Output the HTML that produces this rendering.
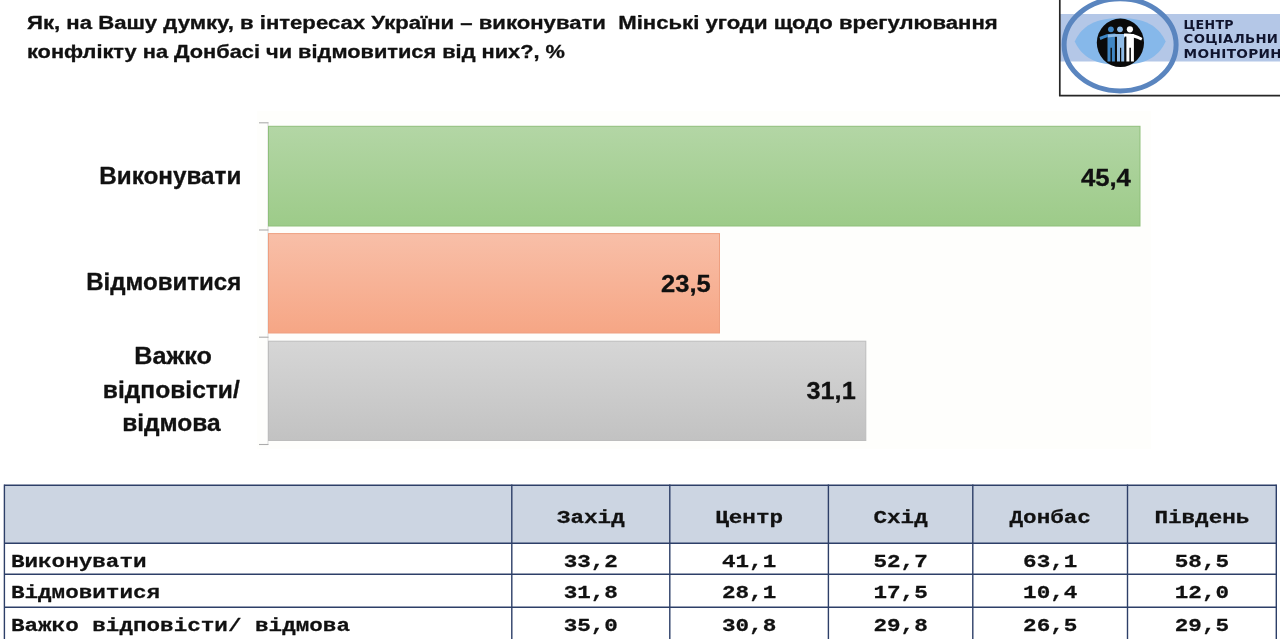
<!DOCTYPE html>
<html lang="uk">
<head>
<meta charset="utf-8">
<title>Мінські угоди – опитування</title>
<style>
html,body{margin:0;padding:0;background:#fff;}
body{width:1280px;height:639px;overflow:hidden;position:relative;}
svg{position:absolute;left:0;top:0;display:block;}
text{white-space:pre;}
</style>
</head>
<body>
<svg width="1280" height="639" viewBox="0 0 1280 639">
<defs>
<linearGradient id="gG" x1="0" y1="0" x2="0" y2="1"><stop offset="0" stop-color="#b3d6a5"/><stop offset="1" stop-color="#9dcb89"/></linearGradient>
<linearGradient id="gO" x1="0" y1="0" x2="0" y2="1"><stop offset="0" stop-color="#f8bfa8"/><stop offset="1" stop-color="#f6a685"/></linearGradient>
<linearGradient id="gS" x1="0" y1="0" x2="0" y2="1"><stop offset="0" stop-color="#d6d6d6"/><stop offset="1" stop-color="#c2c2c2"/></linearGradient>
<clipPath id="logoclip"><rect x="1060" y="0" width="220" height="95"/></clipPath>
<clipPath id="disc"><ellipse cx="1120.4" cy="42.8" rx="23.6" ry="24.2"/></clipPath>
</defs>
<rect x="0" y="0" width="1280" height="639" fill="#ffffff"/>

<text transform="translate(27.1 28.7) scale(1.23 1)" font-family="'Liberation Sans', sans-serif" font-size="18" font-weight="bold" text-anchor="start" fill="#111" stroke="#111" stroke-width="0.3" stroke-linejoin="round" xml:space="preserve">Як, на Вашу думку, в інтересах України – виконувати  Мінські угоди щодо врегулювання</text>
<text transform="translate(27 58.4) scale(1.211 1)" font-family="'Liberation Sans', sans-serif" font-size="18" font-weight="bold" text-anchor="start" fill="#111" stroke="#111" stroke-width="0.3" stroke-linejoin="round" xml:space="preserve">конфлікту на Донбасі чи відмовитися від них?, %</text>
<g id="logo">
<rect x="1060" y="14" width="220" height="47.5" fill="#b4c7e7"/>
<g clip-path="url(#logoclip)">
<path d="M1074.8 41.4 C1080.25 29.6 1090.7 17.9 1120.2 17.9 C1149.7 17.9 1160.15 29.6 1165.6 41.4 C1160.15 53.2 1149.7 64.9 1120.2 64.9 C1090.7 64.9 1080.25 53.2 1074.8 41.4 Z" fill="#86b8ea"/>
<ellipse cx="1120.1" cy="44.8" rx="56" ry="46.1" fill="none" stroke="#5a85bf" stroke-width="5"/>
</g>
<ellipse cx="1120.4" cy="42.8" rx="23.6" ry="24.2" fill="#0a0a0a"/>
<g clip-path="url(#disc)">
<g fill="#3f86c4">
<circle cx="1110.9" cy="29.3" r="2.9"/>
<path d="M1107.5 34 h7.4 v27.4 h-3 v-13.6 h-1.4 v13.6 h-3 z"/>
<path d="M1099.4 37 q8 -3.8 16 -3.4 l0 3 q-8 -0.2 -15 3.4 z"/>
</g>
<g fill="#8fbbe6">
<circle cx="1120" cy="29.3" r="2.9"/>
<path d="M1117 34 h7.2 v27.4 h-3 v-13.6 h-1.2 v13.6 h-3 z"/>
<path d="M1108 34.6 q8 -1.4 17 0.2 l0 2.8 q-9 -1.4 -17 -0.2 z"/>
</g>
<g fill="#ffffff">
<circle cx="1129.9" cy="29.3" r="3.1"/>
<path d="M1126.4 34 h7.5 v27.4 h-3 v-13.6 h-1.5 v13.6 h-3 z"/>
<path d="M1124 33.6 q10 -0.6 18.4 4.4 l-1.2 2.6 q-8 -4.2 -17.2 -4 z"/>
</g>
</g>
<path d="M1059.8 0 V95.7 H1280" fill="none" stroke="#262626" stroke-width="1.7"/>
</g>

<text transform="translate(1183.6 28.8) scale(1.09 1)" font-family="'DejaVu Sans', 'Liberation Sans', sans-serif" font-size="11.6" font-weight="bold" text-anchor="start" fill="#10142e" letter-spacing="0.27" xml:space="preserve">ЦЕНТР</text>
<text transform="translate(1183.6 43.3) scale(1.144 1)" font-family="'DejaVu Sans', 'Liberation Sans', sans-serif" font-size="11.6" font-weight="bold" text-anchor="start" fill="#10142e" letter-spacing="0.27" xml:space="preserve">СОЦІАЛЬНИ</text>
<text transform="translate(1183.6 57.5) scale(1.18 1)" font-family="'DejaVu Sans', 'Liberation Sans', sans-serif" font-size="11.6" font-weight="bold" text-anchor="start" fill="#10142e" letter-spacing="0.27" xml:space="preserve">МОНІТОРИН</text>
<g id="chart">
<rect x="257" y="111" width="894" height="338" fill="#fefefc"/>
<line x1="268" y1="122.5" x2="268" y2="444.5" stroke="#dcdcdc" stroke-width="1"/>
<g stroke="#acacac" stroke-width="1.1">
<line x1="259" y1="122.8" x2="268.5" y2="122.8"/>
<line x1="259" y1="230" x2="268.5" y2="230"/>
<line x1="259" y1="337.2" x2="268.5" y2="337.2"/>
<line x1="259" y1="444.5" x2="268.5" y2="444.5"/>
</g>
<rect x="268.5" y="126.3" width="871.5" height="99.7" fill="url(#gG)" stroke="#8fbf7b" stroke-width="1"/>
<rect x="268.5" y="233.6" width="451" height="99.4" fill="url(#gO)" stroke="#ee9f80" stroke-width="1"/>
<rect x="268.5" y="341.2" width="597.3" height="99.3" fill="url(#gS)" stroke="#bdbdbd" stroke-width="1"/>
</g>

<text transform="translate(241.3 184.2) scale(1.046 1)" font-family="'Liberation Sans', sans-serif" font-size="23.2" font-weight="bold" text-anchor="end" fill="#111" stroke="#111" stroke-width="0.3" stroke-linejoin="round" xml:space="preserve">Виконувати</text>
<text transform="translate(241.3 290.2) scale(1.038 1)" font-family="'Liberation Sans', sans-serif" font-size="23.2" font-weight="bold" text-anchor="end" fill="#111" stroke="#111" stroke-width="0.3" stroke-linejoin="round" xml:space="preserve">Відмовитися</text>
<text transform="translate(173.1 363.9) scale(1.085 1)" font-family="'Liberation Sans', sans-serif" font-size="23.2" font-weight="bold" text-anchor="middle" fill="#111" stroke="#111" stroke-width="0.3" stroke-linejoin="round" xml:space="preserve">Важко</text>
<text transform="translate(171.3 397.8) scale(1.06 1)" font-family="'Liberation Sans', sans-serif" font-size="23.2" font-weight="bold" text-anchor="middle" fill="#111" stroke="#111" stroke-width="0.3" stroke-linejoin="round" xml:space="preserve">відповісти/</text>
<text transform="translate(171.4 431) scale(1.056 1)" font-family="'Liberation Sans', sans-serif" font-size="23.2" font-weight="bold" text-anchor="middle" fill="#111" stroke="#111" stroke-width="0.3" stroke-linejoin="round" xml:space="preserve">відмова</text>
<text transform="translate(1130.9 185.7) scale(1.108 1)" font-family="'Liberation Sans', sans-serif" font-size="23.2" font-weight="bold" text-anchor="end" fill="#111" stroke="#111" stroke-width="0.3" stroke-linejoin="round" xml:space="preserve">45,4</text>
<text transform="translate(710.7 292.4) scale(1.1 1)" font-family="'Liberation Sans', sans-serif" font-size="23.2" font-weight="bold" text-anchor="end" fill="#111" stroke="#111" stroke-width="0.3" stroke-linejoin="round" xml:space="preserve">23,5</text>
<text transform="translate(855.7 399.4) scale(1.09 1)" font-family="'Liberation Sans', sans-serif" font-size="23.2" font-weight="bold" text-anchor="end" fill="#111" stroke="#111" stroke-width="0.3" stroke-linejoin="round" xml:space="preserve">31,1</text>
<g id="table"><rect x="4.4" y="485.3" width="1271.8999999999999" height="57.99999999999994" fill="#ccd5e2"/>
<g stroke="#2d3f68" stroke-width="1.4" fill="none">
<line x1="4.4" y1="484.5" x2="4.4" y2="640"/>
<line x1="511.8" y1="484.5" x2="511.8" y2="640"/>
<line x1="669.8" y1="484.5" x2="669.8" y2="640"/>
<line x1="828.4" y1="484.5" x2="828.4" y2="640"/>
<line x1="972.8" y1="484.5" x2="972.8" y2="640"/>
<line x1="1127.5" y1="484.5" x2="1127.5" y2="640"/>
<line x1="1276.3" y1="484.5" x2="1276.3" y2="640"/>
<line x1="4.4" y1="485.3" x2="1276.3" y2="485.3"/>
<line x1="4.4" y1="543.3" x2="1276.3" y2="543.3"/>
<line x1="4.4" y1="574.3" x2="1276.3" y2="574.3"/>
<line x1="4.4" y1="607.2" x2="1276.3" y2="607.2"/>
</g></g>
<text transform="translate(590.8 523.4) scale(1.19 1)" font-family="'Liberation Mono', monospace" font-size="19.0" font-weight="bold" text-anchor="middle" fill="#111" stroke="#111" stroke-width="0.25" stroke-linejoin="round" xml:space="preserve">Захід</text>
<text transform="translate(749.1 523.4) scale(1.19 1)" font-family="'Liberation Mono', monospace" font-size="19.0" font-weight="bold" text-anchor="middle" fill="#111" stroke="#111" stroke-width="0.25" stroke-linejoin="round" xml:space="preserve">Центр</text>
<text transform="translate(900.6 523.4) scale(1.19 1)" font-family="'Liberation Mono', monospace" font-size="19.0" font-weight="bold" text-anchor="middle" fill="#111" stroke="#111" stroke-width="0.25" stroke-linejoin="round" xml:space="preserve">Схід</text>
<text transform="translate(1050.2 523.4) scale(1.19 1)" font-family="'Liberation Mono', monospace" font-size="19.0" font-weight="bold" text-anchor="middle" fill="#111" stroke="#111" stroke-width="0.25" stroke-linejoin="round" xml:space="preserve">Донбас</text>
<text transform="translate(1201.9 523.4) scale(1.19 1)" font-family="'Liberation Mono', monospace" font-size="19.0" font-weight="bold" text-anchor="middle" fill="#111" stroke="#111" stroke-width="0.25" stroke-linejoin="round" xml:space="preserve">Південь</text>
<text transform="translate(10.9 566.6) scale(1.19 1)" font-family="'Liberation Mono', monospace" font-size="19.0" font-weight="bold" text-anchor="start" fill="#111" stroke="#111" stroke-width="0.25" stroke-linejoin="round" xml:space="preserve">Виконувати</text>
<text transform="translate(590.8 566.6) scale(1.19 1)" font-family="'Liberation Mono', monospace" font-size="19.0" font-weight="bold" text-anchor="middle" fill="#111" stroke="#111" stroke-width="0.25" stroke-linejoin="round" xml:space="preserve">33,2</text>
<text transform="translate(749.1 566.6) scale(1.19 1)" font-family="'Liberation Mono', monospace" font-size="19.0" font-weight="bold" text-anchor="middle" fill="#111" stroke="#111" stroke-width="0.25" stroke-linejoin="round" xml:space="preserve">41,1</text>
<text transform="translate(900.6 566.6) scale(1.19 1)" font-family="'Liberation Mono', monospace" font-size="19.0" font-weight="bold" text-anchor="middle" fill="#111" stroke="#111" stroke-width="0.25" stroke-linejoin="round" xml:space="preserve">52,7</text>
<text transform="translate(1050.2 566.6) scale(1.19 1)" font-family="'Liberation Mono', monospace" font-size="19.0" font-weight="bold" text-anchor="middle" fill="#111" stroke="#111" stroke-width="0.25" stroke-linejoin="round" xml:space="preserve">63,1</text>
<text transform="translate(1201.9 566.6) scale(1.19 1)" font-family="'Liberation Mono', monospace" font-size="19.0" font-weight="bold" text-anchor="middle" fill="#111" stroke="#111" stroke-width="0.25" stroke-linejoin="round" xml:space="preserve">58,5</text>
<text transform="translate(10.9 598.1) scale(1.19 1)" font-family="'Liberation Mono', monospace" font-size="19.0" font-weight="bold" text-anchor="start" fill="#111" stroke="#111" stroke-width="0.25" stroke-linejoin="round" xml:space="preserve">Відмовитися</text>
<text transform="translate(590.8 598.1) scale(1.19 1)" font-family="'Liberation Mono', monospace" font-size="19.0" font-weight="bold" text-anchor="middle" fill="#111" stroke="#111" stroke-width="0.25" stroke-linejoin="round" xml:space="preserve">31,8</text>
<text transform="translate(749.1 598.1) scale(1.19 1)" font-family="'Liberation Mono', monospace" font-size="19.0" font-weight="bold" text-anchor="middle" fill="#111" stroke="#111" stroke-width="0.25" stroke-linejoin="round" xml:space="preserve">28,1</text>
<text transform="translate(900.6 598.1) scale(1.19 1)" font-family="'Liberation Mono', monospace" font-size="19.0" font-weight="bold" text-anchor="middle" fill="#111" stroke="#111" stroke-width="0.25" stroke-linejoin="round" xml:space="preserve">17,5</text>
<text transform="translate(1050.2 598.1) scale(1.19 1)" font-family="'Liberation Mono', monospace" font-size="19.0" font-weight="bold" text-anchor="middle" fill="#111" stroke="#111" stroke-width="0.25" stroke-linejoin="round" xml:space="preserve">10,4</text>
<text transform="translate(1201.9 598.1) scale(1.19 1)" font-family="'Liberation Mono', monospace" font-size="19.0" font-weight="bold" text-anchor="middle" fill="#111" stroke="#111" stroke-width="0.25" stroke-linejoin="round" xml:space="preserve">12,0</text>
<text transform="translate(10.9 631.2) scale(1.19 1)" font-family="'Liberation Mono', monospace" font-size="19.0" font-weight="bold" text-anchor="start" fill="#111" stroke="#111" stroke-width="0.25" stroke-linejoin="round" xml:space="preserve">Важко відповісти/ відмова</text>
<text transform="translate(590.8 631.2) scale(1.19 1)" font-family="'Liberation Mono', monospace" font-size="19.0" font-weight="bold" text-anchor="middle" fill="#111" stroke="#111" stroke-width="0.25" stroke-linejoin="round" xml:space="preserve">35,0</text>
<text transform="translate(749.1 631.2) scale(1.19 1)" font-family="'Liberation Mono', monospace" font-size="19.0" font-weight="bold" text-anchor="middle" fill="#111" stroke="#111" stroke-width="0.25" stroke-linejoin="round" xml:space="preserve">30,8</text>
<text transform="translate(900.6 631.2) scale(1.19 1)" font-family="'Liberation Mono', monospace" font-size="19.0" font-weight="bold" text-anchor="middle" fill="#111" stroke="#111" stroke-width="0.25" stroke-linejoin="round" xml:space="preserve">29,8</text>
<text transform="translate(1050.2 631.2) scale(1.19 1)" font-family="'Liberation Mono', monospace" font-size="19.0" font-weight="bold" text-anchor="middle" fill="#111" stroke="#111" stroke-width="0.25" stroke-linejoin="round" xml:space="preserve">26,5</text>
<text transform="translate(1201.9 631.2) scale(1.19 1)" font-family="'Liberation Mono', monospace" font-size="19.0" font-weight="bold" text-anchor="middle" fill="#111" stroke="#111" stroke-width="0.25" stroke-linejoin="round" xml:space="preserve">29,5</text>
</svg>
</body>
</html>
